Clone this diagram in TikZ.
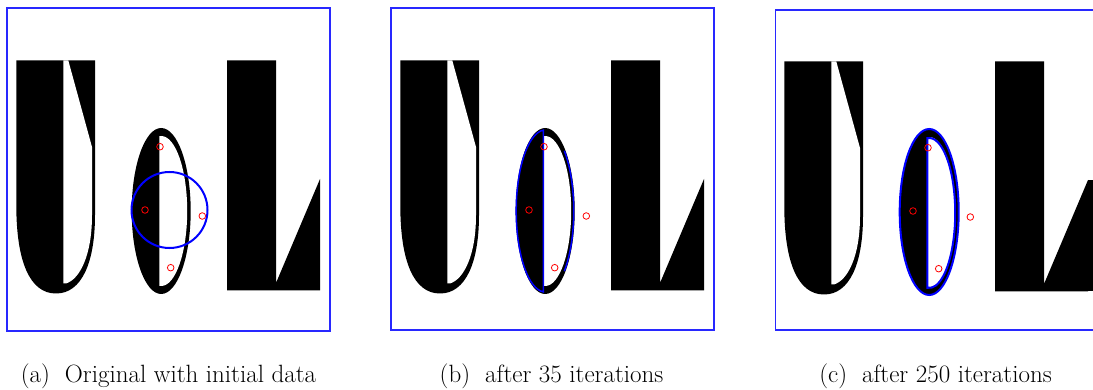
\documentclass[tikz,border=0pt]{standalone}
\usepackage{tikz}
\definecolor{frameblue}{RGB}{40,40,255}
\tikzset{
  panelframe/.style={draw=frameblue, line width=1.2pt},
  contour/.style={draw=blue, line width=2pt},
  thincontour/.style={draw=blue, line width=1.5pt},
  marker/.style={draw=red, line width=0.8pt},
  captext/.style={anchor=base, inner sep=0pt, font=\fontsize{25}{29}\selectfont},
}
\newcommand\shapesUOL{%
  % U
  \fill[black] (16.3,60.5) -- (95,60.5) -- (95,215)
     .. controls (95,262) and (82,293.5) .. (56,293.5)
     .. controls (30,293.5) and (16.3,262) .. (16.3,205) -- cycle;
  \fill[white] (63.3,60.5) -- (68.3,60.5) -- (92,147) -- (92,215)
     .. controls (92,255) and (80,279) .. (66,283.5) -- (63.3,283.5) -- cycle;
  % O (ellipse)
  \fill[black] (161.2,211) ellipse [x radius=29.5, y radius=83];
  \begin{scope}
    \clip (159.3,100) rectangle (200,300);
    \fill[white] (161.2,211) ellipse [x radius=26, y radius=75];
  \end{scope}
  % L
  \fill[black] (227,60.5) -- (276,60.5) -- (276,283) -- (320,179)
     -- (320,290.3) -- (227,290.3) -- cycle;
}
\newcommand\markersUOL{%
  \draw[marker] (160,146.7) circle[radius=3.3];
  \draw[marker] (145,210) circle[radius=3.3];
  \draw[marker] (202.3,216) circle[radius=3.3];
  \draw[marker] (170.7,267.7) circle[radius=3.3];
}
\begin{document}
\begin{tikzpicture}[x=1pt, y=-1pt]
  \useasboundingbox (0,0) rectangle (1093,390);
  % ---------------- panel (a)
  \draw[panelframe] (7,8) rectangle (330,331);
  \shapesUOL
  \draw[contour] (169.5,210) circle[radius=38];
  \markersUOL
  % ---------------- panel (b)
  \draw[panelframe] (391,8) rectangle (714,330);
  \begin{scope}[shift={(384,0)}]
    \shapesUOL
    \draw[thincontour] (159.3,130.2) arc[start angle=266.24, end angle=93.76, x radius=29, y radius=81] -- cycle;
    \draw[thincontour] (180.3,150.8) arc[start angle=-48, end angle=48, x radius=28.5, y radius=81];
    \markersUOL
  \end{scope}
  % ---------------- panel (c)
  \draw[panelframe] (1093,10) -- (775.3,10) -- (775.3,330) -- (1093,330);
  \begin{scope}[shift={(768,1)}]
    \shapesUOL
    \fill[black] (320,179) rectangle (325,290.3);
    \draw[contour] (161.2,211) ellipse [x radius=29.5, y radius=83];
    \draw[contour] (159.3,137.2) arc[start angle=265.8, end angle=454.2, x radius=26, y radius=75] -- cycle;
    \markersUOL
  \end{scope}
  % ---------------- captions
  \node[captext] (capA) at (168.5,382) {(a)\hspace{0.6em}Original with initial data};
  \node[captext] (capB) at (551.5,382) {(b)\hspace{0.6em}after 35 iterations};
  \node[captext] (capC) at (935.5,382) {(c)\hspace{0.6em}after 250 iterations};
\end{tikzpicture}
\end{document}
